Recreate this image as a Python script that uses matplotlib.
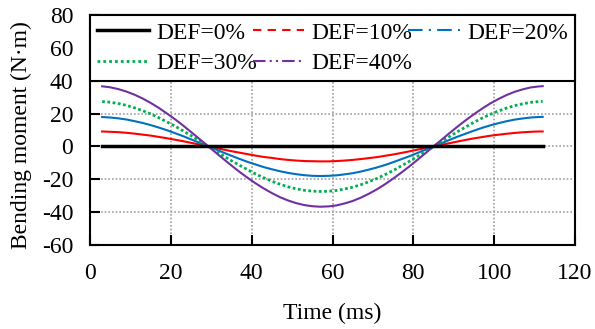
import matplotlib.pyplot as plt
from matplotlib.lines import Line2D

# time points (ms), every 2 ms
t = list(range(3, 112, 2)) + [112]

# bending moment (N·m) for each DEF level
def0 = [0] * len(t)
def10 = [9.1, 8.9, 8.7, 8.3, 7.8, 7.2, 6.6, 5.8, 5.0, 4.1, 3.2, 2.2, 1.2, 0.2, -0.9, -1.9,
         -2.9, -3.8, -4.7, -5.6, -6.4, -7.0, -7.7, -8.2, -8.6, -8.9, -9.0, -9.1, -9.1, -8.9,
         -8.6, -8.2, -7.7, -7.1, -6.5, -5.7, -4.9, -4.0, -3.0, -2.0, -1.0, 0.0, 1.0, 2.0,
         3.0, 4.0, 4.9, 5.7, 6.5, 7.1, 7.7, 8.2, 8.6, 8.9, 9.1, 9.1]
def20 = [17.9, 17.6, 17.1, 16.4, 15.4, 14.3, 13.0, 11.5, 9.9, 8.1, 6.3, 4.3, 2.3, 0.3, -1.7,
         -3.7, -5.7, -7.6, -9.4, -11.0, -12.6, -13.9, -15.1, -16.1, -16.9, -17.5, -17.9,
         -18.0, -17.9, -17.6, -17.0, -16.3, -15.3, -14.1, -12.8, -11.3, -9.6, -7.8, -6.0,
         -4.0, -2.0, 0.0, 2.0, 4.0, 6.0, 7.8, 9.6, 11.3, 12.8, 14.1, 15.3, 16.3, 17.0, 17.6,
         17.9, 18.0]
def30 = [27.3, 26.9, 26.1, 25.0, 23.5, 21.8, 19.8, 17.5, 15.0, 12.4, 9.5, 6.6, 3.5, 0.5, -2.6,
         -5.7, -8.7, -11.5, -14.2, -16.8, -19.1, -21.2, -23.0, -24.6, -25.8, -26.7, -27.2,
         -27.4, -27.3, -26.8, -25.9, -24.8, -23.3, -21.5, -19.5, -17.2, -14.7, -11.9, -9.1,
         -6.1, -3.1, 0.0, 3.1, 6.1, 9.1, 11.9, 14.7, 17.2, 19.5, 21.5, 23.3, 24.8, 25.9, 26.8,
         27.3, 27.4]
def40 = [36.6, 36.0, 34.9, 33.4, 31.5, 29.2, 26.5, 23.5, 20.1, 16.6, 12.8, 8.8, 4.7, 0.6, -3.5,
         -7.6, -11.6, -15.5, -19.1, -22.5, -25.6, -28.4, -30.9, -32.9, -34.5, -35.7, -36.4,
         -36.7, -36.5, -35.9, -34.7, -33.2, -31.2, -28.8, -26.1, -23.0, -19.6, -16.0, -12.2,
         -8.2, -4.1, 0.0, 4.1, 8.2, 12.2, 16.0, 19.6, 23.0, 26.1, 28.8, 31.2, 33.2, 34.7, 35.9,
         36.5, 36.7]

labels = ["DEF=0%", "DEF=10%", "DEF=20%", "DEF=30%", "DEF=40%"]
xticks = [0, 20, 40, 60, 80, 100, 120]
yticks = [-60, -40, -20, 0, 20, 40, 60, 80]

plt.rcParams['font.family'] = ['Liberation Serif', 'DejaVu Serif']
plt.rcParams['font.size'] = 17
plt.rcParams['axes.unicode_minus'] = False

fig = plt.figure(figsize=(5.95, 3.29), dpi=100)
ax = fig.add_axes([90 / 595, 84 / 329, 485 / 595, 230 / 329])

red, blue, green, purple = '#FF0000', '#0070C0', '#00B050', '#7030A0'

ax.plot(t, def10, color=red, lw=1.5, zorder=3)
ax.plot(t, def20, color=blue, lw=1.5, zorder=3)
ax.plot(t, def30, color=green, lw=2, linestyle=(0, (1, 0.9)), zorder=3)
ax.plot(t, def40, color=purple, lw=1.5, zorder=3)
ax.plot(t, def0, color='black', lw=2.5, zorder=4)

ax.set_xlim(0, 120)
ax.set_ylim(-60, 80)
ax.set_xticks(xticks)
ax.set_yticks(yticks)
ax.grid(True, color='#a0a0a0', linestyle=(0, (1, 1.2)), lw=1.2)
ax.tick_params(axis='both', direction='in', length=7, width=1.5)
ax.tick_params(axis='x', pad=13)
ax.tick_params(axis='y', pad=12)
for s in ax.spines.values():
    s.set_linewidth(1.5)

ax.set_xlabel("Time (ms)", va='center')
ax.xaxis.set_label_coords(0.5, -0.296)
ax.set_ylabel("Bending moment (N·m)", va='center')
ax.yaxis.set_label_coords(-0.142, 0.48)

# legend handles carry the line styles shown in the key
handles = [
    Line2D([], [], color='black', lw=2.5),
    Line2D([], [], color=red, lw=1.5, linestyle=(0, (4, 3))),
    Line2D([], [], color=blue, lw=1.5, linestyle=(0, (7, 3, 1, 3))),
    Line2D([], [], color=green, lw=2, linestyle=(0, (1, 1.1))),
    Line2D([], [], color=purple, lw=1.5, linestyle=(0, (6, 2, 1, 2, 1, 2))),
]
order = [0, 3, 1, 4, 2]
leg = ax.legend([handles[i] for i in order], [labels[i] for i in order],
                ncol=3, loc='upper left', bbox_to_anchor=(0, 1, 1, 0), mode='expand',
                borderaxespad=0, fancybox=False, framealpha=1, edgecolor='black',
                handlelength=2.2, handletextpad=0.3, columnspacing=0.1,
                borderpad=0.3, labelspacing=0.38)
leg.get_frame().set_linewidth(1.5)
leg.set_zorder(10)

fig.savefig("out.png", dpi=100)
